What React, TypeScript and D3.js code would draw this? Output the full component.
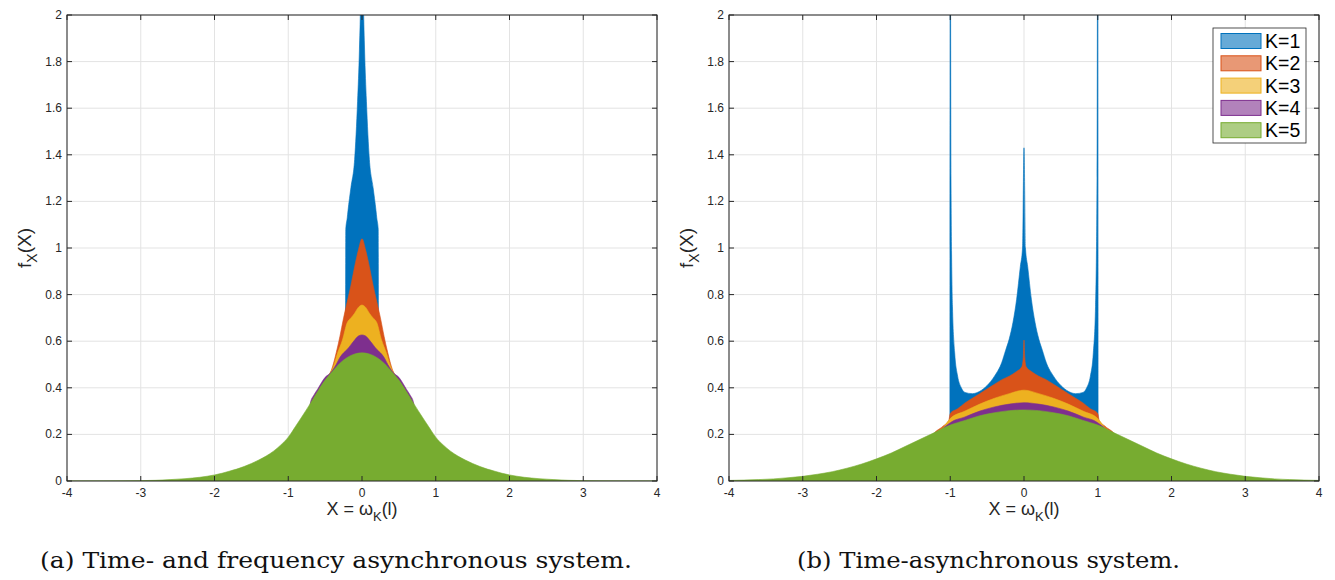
import React from "react";
import * as d3 from "d3";

// ---------- data ----------
const xTicks = [-4, -3, -2, -1, 0, 1, 2, 3, 4];
const xTickLabels = ["-4", "-3", "-2", "-1", "0", "1", "2", "3", "4"];
const yTicks = [0, 0.2, 0.4, 0.6, 0.8, 1, 1.2, 1.4, 1.6, 1.8, 2];
const yTickLabels = ["0", "0.2", "0.4", "0.6", "0.8", "1", "1.2", "1.4", "1.6", "1.8", "2"];
const seriesNames = ["K=1", "K=2", "K=3", "K=4", "K=5"];
const seriesColors = ["#0072BD", "#D95319", "#EDB120", "#7E2F8E", "#77AC30"];

// Panel (a): time- and frequency asynchronous system
const panelA_K1: [number, number][] = [
  [-0.225, 0], [-0.22, 1.08], [-0.2, 1.13], [-0.19, 1.16], [-0.15, 1.26], [-0.1, 1.38],
  [-0.06, 1.63], [-0.035, 1.85], [-0.02, 2.05], [0, 2.6],
  [0.02, 2.05], [0.035, 1.85], [0.06, 1.63], [0.1, 1.38], [0.15, 1.26], [0.19, 1.16],
  [0.2, 1.13], [0.22, 1.08], [0.225, 0],
];
const panelA_K2: [number, number][] = [
  [-0.55, 0], [-0.5, 0.42], [-0.45, 0.45], [-0.4, 0.49], [-0.35, 0.55], [-0.3, 0.62], [-0.25, 0.7],
  [-0.2, 0.77], [-0.15, 0.84], [-0.1, 0.92], [-0.05, 0.99], [0, 1.04],
  [0.05, 0.99], [0.1, 0.92], [0.15, 0.84], [0.2, 0.77], [0.25, 0.7], [0.3, 0.62],
  [0.35, 0.55], [0.4, 0.49], [0.45, 0.45], [0.5, 0.42], [0.55, 0],
];
const panelA_K3: [number, number][] = [
  [-0.55, 0], [-0.5, 0.43], [-0.45, 0.455], [-0.39, 0.49], [-0.33, 0.55], [-0.265, 0.605],
  [-0.2, 0.68], [-0.15, 0.7], [-0.1, 0.72], [-0.05, 0.745], [0, 0.755],
  [0.05, 0.745], [0.1, 0.72], [0.15, 0.7], [0.2, 0.68], [0.265, 0.605], [0.33, 0.55],
  [0.39, 0.49], [0.45, 0.455], [0.5, 0.43], [0.55, 0],
];
const panelA_K4: [number, number][] = [
  [-0.75, 0], [-0.7, 0.335], [-0.65, 0.37], [-0.6, 0.395], [-0.5, 0.445], [-0.43, 0.463],
  [-0.35, 0.5], [-0.3, 0.53], [-0.25, 0.55], [-0.2, 0.565], [-0.15, 0.585], [-0.1, 0.605],
  [-0.05, 0.622], [0, 0.627],
  [0.05, 0.622], [0.1, 0.605], [0.15, 0.585], [0.2, 0.565], [0.25, 0.55], [0.3, 0.53],
  [0.35, 0.5], [0.43, 0.463], [0.5, 0.445], [0.6, 0.395], [0.65, 0.37], [0.7, 0.335], [0.75, 0],
];
const panelA_K5: [number, number][] = [
  [-4, 0], [-3.5, 0.0004], [-3, 0.0015], [-2.8, 0.003], [-2.6, 0.006], [-2.4, 0.01], [-2.2, 0.016],
  [-2, 0.026], [-1.9, 0.033], [-1.8, 0.042], [-1.7, 0.051], [-1.6, 0.062], [-1.5, 0.075],
  [-1.4, 0.09], [-1.3, 0.107], [-1.2, 0.128], [-1.1, 0.155], [-1, 0.188], [-0.9, 0.235],
  [-0.8, 0.283], [-0.7, 0.333], [-0.6, 0.385], [-0.5, 0.433], [-0.4, 0.47], [-0.3, 0.505],
  [-0.2, 0.53], [-0.1, 0.545], [0, 0.55],
  [0.1, 0.545], [0.2, 0.53], [0.3, 0.505], [0.4, 0.47], [0.5, 0.433], [0.6, 0.385],
  [0.7, 0.333], [0.8, 0.283], [0.9, 0.235], [1, 0.188], [1.1, 0.155], [1.2, 0.128], [1.3, 0.107],
  [1.4, 0.09], [1.5, 0.075], [1.6, 0.062], [1.7, 0.051], [1.8, 0.042], [1.9, 0.033], [2, 0.026],
  [2.2, 0.016], [2.4, 0.01], [2.6, 0.006], [2.8, 0.003], [3, 0.0015], [3.5, 0.0004], [4, 0],
];

// Panel (b): time-asynchronous system
const panelB_K1: [number, number][] = [
  [-1.005, 0], [-1.0, 2.6], [-0.99, 1.3], [-0.97, 0.75], [-0.94, 0.55], [-0.9, 0.45], [-0.85, 0.4],
  [-0.8, 0.38], [-0.7, 0.375], [-0.6, 0.385], [-0.5, 0.41], [-0.4, 0.45], [-0.3, 0.51],
  [-0.25, 0.56], [-0.2, 0.61], [-0.15, 0.68], [-0.1, 0.78], [-0.05, 0.92], [-0.02, 1.0], [0, 1.43],
  [0.02, 1.0], [0.05, 0.92], [0.1, 0.78], [0.15, 0.68], [0.2, 0.61], [0.25, 0.56], [0.3, 0.51],
  [0.4, 0.45], [0.5, 0.41], [0.6, 0.385], [0.7, 0.375], [0.8, 0.38], [0.85, 0.4], [0.9, 0.45],
  [0.94, 0.55], [0.97, 0.75], [0.99, 1.3], [1.0, 2.6], [1.005, 0],
];
const panelB_K2: [number, number][] = [
  [-1.3, 0], [-1.25, 0.19], [-1.1, 0.235], [-1.02, 0.26], [-1.0, 0.29], [-0.9, 0.31], [-0.8, 0.335],
  [-0.7, 0.355], [-0.6, 0.375], [-0.5, 0.395], [-0.4, 0.415], [-0.3, 0.435], [-0.2, 0.45],
  [-0.1, 0.47], [-0.03, 0.49], [-0.01, 0.53], [0, 0.605],
  [0.01, 0.53], [0.03, 0.49], [0.1, 0.47], [0.2, 0.45], [0.3, 0.435], [0.4, 0.415], [0.5, 0.395],
  [0.6, 0.375], [0.7, 0.355], [0.8, 0.335], [0.9, 0.31], [1.0, 0.29], [1.02, 0.26], [1.1, 0.235],
  [1.25, 0.19], [1.3, 0],
];
const panelB_K3: [number, number][] = [
  [-1.25, 0], [-1.2, 0.2], [-1.1, 0.228], [-1.0, 0.268], [-0.8, 0.3], [-0.6, 0.33], [-0.4, 0.355],
  [-0.2, 0.375], [0, 0.39], [0.2, 0.375], [0.4, 0.355], [0.6, 0.33], [0.8, 0.3], [1.0, 0.268],
  [1.1, 0.228], [1.2, 0.2], [1.25, 0],
];
const panelB_K4: [number, number][] = [
  [-1.2, 0], [-1.15, 0.2], [-1.0, 0.25], [-0.8, 0.275], [-0.6, 0.3], [-0.4, 0.318], [-0.2, 0.33],
  [0, 0.336], [0.2, 0.33], [0.4, 0.318], [0.6, 0.3], [0.8, 0.275], [1.0, 0.25], [1.15, 0.2], [1.2, 0],
];
const panelB_K5: [number, number][] = [
  [-4, 0.0025], [-3.8, 0.004], [-3.6, 0.006], [-3.4, 0.009], [-3.2, 0.014], [-3, 0.02],
  [-2.8, 0.029], [-2.6, 0.04], [-2.4, 0.055], [-2.2, 0.073], [-2, 0.095], [-1.8, 0.12],
  [-1.6, 0.15], [-1.4, 0.18], [-1.2, 0.21], [-1, 0.24], [-0.8, 0.26], [-0.6, 0.28], [-0.4, 0.293],
  [-0.2, 0.302], [0, 0.305], [0.2, 0.302], [0.4, 0.293], [0.6, 0.28], [0.8, 0.26], [1, 0.24],
  [1.2, 0.21], [1.4, 0.18], [1.6, 0.15], [1.8, 0.12], [2, 0.095], [2.2, 0.073], [2.4, 0.055],
  [2.6, 0.04], [2.8, 0.029], [3, 0.02], [3.2, 0.014], [3.4, 0.009], [3.6, 0.006], [3.8, 0.004],
  [4, 0.0025],
];

const panelASeries = [panelA_K1, panelA_K2, panelA_K3, panelA_K4, panelA_K5];
const panelBSeries = [panelB_K1, panelB_K2, panelB_K3, panelB_K4, panelB_K5];

const captionA = "(a) Time- and frequency asynchronous system.";
const captionB = "(b) Time-asynchronous system.";

// ---------- drawing ----------
const FONT = "'Liberation Sans', Arial, Helvetica, sans-serif";
const AX = "#262626";
const TOP = 15;
const BOTTOM = 481;
const W = 590;

type PanelProps = {
  id: string;
  left: number;
  series: [number, number][][];
  legend: boolean;
  caption: string;
  captionX: number;
  captionW: number;
};

function Panel({ id, left, series, legend, caption, captionX, captionW }: PanelProps) {
  const x = d3.scaleLinear().domain([-4, 4]).range([left, left + W]);
  const y = d3.scaleLinear().domain([0, 2]).range([BOTTOM, TOP]);
  const area = d3
    .area<[number, number]>()
    .x((d) => x(d[0]))
    .y0(y(0))
    .y1((d) => y(d[1]))
    .curve(d3.curveMonotoneX);
  const right = left + W;
  const tick = 5;
  const cx = left + W / 2;

  return (
    <g>
      <defs>
        <clipPath id={`clip-${id}`}>
          <rect x={left} y={TOP} width={W} height={BOTTOM - TOP} />
        </clipPath>
      </defs>
      {/* grid */}
      {xTicks.map((t) => (
        <line key={`gx${t}`} x1={x(t)} x2={x(t)} y1={TOP} y2={BOTTOM} stroke="#e3e3e3" strokeWidth={1} />
      ))}
      {yTicks.map((t) => (
        <line key={`gy${t}`} x1={left} x2={right} y1={y(t)} y2={y(t)} stroke="#e3e3e3" strokeWidth={1} />
      ))}
      {/* areas */}
      <g clipPath={`url(#clip-${id})`}>
        {series.map((s, i) => (
          <path key={i} d={area(s) || ""} fill={seriesColors[i]} stroke={seriesColors[i]} strokeWidth={0.6} />
        ))}
      </g>
      {/* box */}
      <rect x={left} y={TOP} width={W} height={BOTTOM - TOP} fill="none" stroke={AX} strokeWidth={1} />
      {/* ticks */}
      {xTicks.map((t) => (
        <g key={`tx${t}`}>
          <line x1={x(t)} x2={x(t)} y1={BOTTOM} y2={BOTTOM - tick} stroke={AX} />
          <line x1={x(t)} x2={x(t)} y1={TOP} y2={TOP + tick} stroke={AX} />
        </g>
      ))}
      {yTicks.map((t) => (
        <g key={`ty${t}`}>
          <line x1={left} x2={left + tick} y1={y(t)} y2={y(t)} stroke={AX} />
          <line x1={right} x2={right - tick} y1={y(t)} y2={y(t)} stroke={AX} />
        </g>
      ))}
      {/* tick labels */}
      {xTicks.map((t, i) => (
        <text key={`lx${t}`} x={x(t)} y={497} textAnchor="middle" fontFamily={FONT} fontSize={12} fill={AX}>
          {xTickLabels[i]}
        </text>
      ))}
      {yTicks.map((t, i) => (
        <text key={`ly${t}`} x={left - 5} y={y(t) + 4} textAnchor="end" fontFamily={FONT} fontSize={12} fill={AX}>
          {yTickLabels[i]}
        </text>
      ))}
      {/* x label */}
      <text x={cx} y={515} textAnchor="middle" fontFamily={FONT} fontSize={18} fill={AX}>
        X = ω
        <tspan fontSize={13} dy={6}>K</tspan>
        <tspan dy={-6}>(l)</tspan>
      </text>
      {/* y label */}
      <text
        transform={`translate(${left - 36},${(TOP + BOTTOM) / 2}) rotate(-90)`}
        textAnchor="middle"
        fontFamily={FONT}
        fontSize={19}
        fill={AX}
      >
        f<tspan fontSize={14} dy={6}>X</tspan>
        <tspan dy={-6}>(X)</tspan>
      </text>
      {/* legend */}
      {legend && (
        <g>
          <rect x={1213} y={28} width={93} height={115} fill="#fff" stroke={AX} strokeWidth={0.8} />
          {seriesNames.map((n, i) => {
            const cy = 41 + i * 22.3;
            return (
              <g key={n}>
                <rect
                  x={1221}
                  y={cy - 7.5}
                  width={40}
                  height={15}
                  fill={seriesColors[i]}
                  fillOpacity={0.6}
                  stroke={seriesColors[i]}
                  strokeWidth={1}
                />
                <text x={1265} y={cy + 7} fontFamily={FONT} fontSize={19.5} fill="#000">
                  {n}
                </text>
              </g>
            );
          })}
        </g>
      )}
      {/* caption */}
      <text
        x={captionX}
        y={568}
        fontFamily="'DejaVu Serif', 'Liberation Serif', serif"
        fontSize={22}
        fill="#111"
        textLength={captionW}
        lengthAdjust="spacingAndGlyphs"
      >
        {caption}
      </text>
    </g>
  );
}

export default function App() {
  return (
    <svg
      width={1335}
      height={580}
      style={{ position: "absolute", left: 0, top: 0, background: "#fff" }}
    >
      <rect x={0} y={0} width={1335} height={580} fill="#fff" />
      <Panel id="a" left={67} series={panelASeries} legend={false} caption={captionA} captionX={40} captionW={592} />
      <Panel id="b" left={729} series={panelBSeries} legend={true} caption={captionB} captionX={797} captionW={383} />
    </svg>
  );
}
